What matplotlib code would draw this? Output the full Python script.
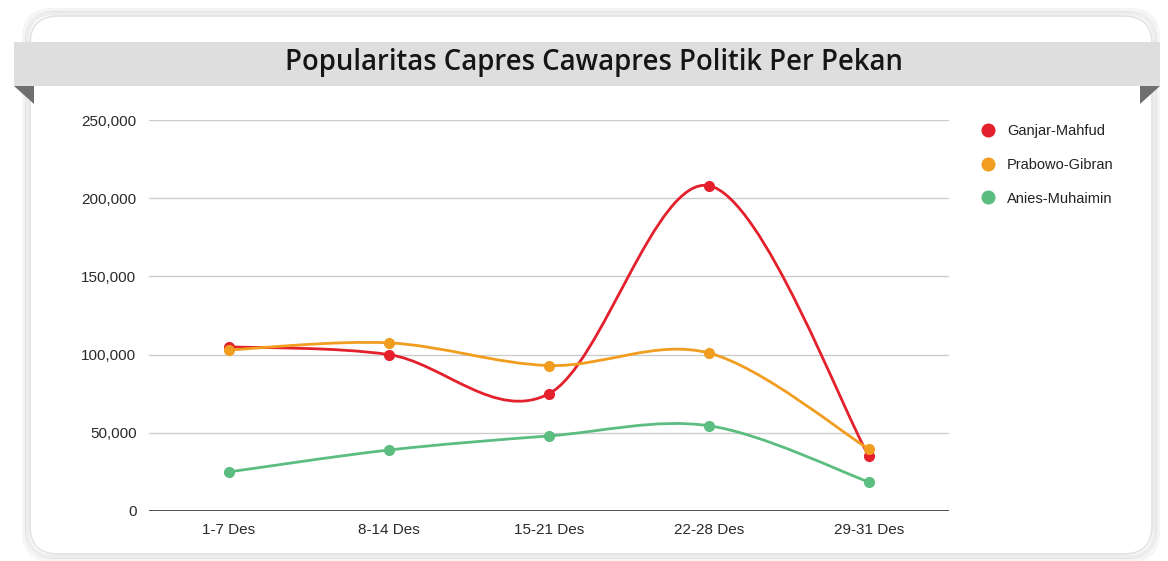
import matplotlib.pyplot as plt
from matplotlib.patches import FancyBboxPatch, Rectangle, Polygon
from matplotlib.path import Path
from matplotlib.patches import PathPatch

weeks = ['1-7 Des', '8-14 Des', '15-21 Des', '22-28 Des', '29-31 Des']
ganjar = [105000, 100000, 75000, 208000, 35000]
prabowo = [103000, 107500, 93000, 101000, 39500]
anies = [25000, 39000, 48000, 54500, 18500]
names = ['Ganjar-Mahfud', 'Prabowo-Gibran', 'Anies-Muhaimin']
colors = ['#e3202b', '#f19d1f', '#5cbd80']
title = 'Popularitas Capres Cawapres Politik Per Pekan'

W, H = 1168, 561
fig = plt.figure(figsize=(W / 100, H / 100), dpi=100)
fig.patch.set_facecolor('white')

# decoration layer in pixel coords
bg = fig.add_axes([0, 0, 1, 1], zorder=0)
bg.set_xlim(0, W)
bg.set_ylim(H, 0)
bg.axis('off')
for off, a in [(6, 0.04), (3, 0.07)]:
    bg.add_patch(FancyBboxPatch((30 - off, 16 - off), 1122 + 2 * off, 538 + 2 * off,
                                boxstyle='round,pad=0,rounding_size=28',
                                fc='none', ec=(0, 0, 0, a), lw=3))
bg.add_patch(FancyBboxPatch((30, 16), 1122, 538, boxstyle='round,pad=0,rounding_size=28',
                            fc='white', ec='#e2e2e2', lw=1.2))
bg.add_patch(Polygon([(14, 86), (34, 86), (34, 104)], closed=True, fc='#6f6f6f', ec='none'))
bg.add_patch(Polygon([(1160, 86), (1140, 86), (1140, 104)], closed=True, fc='#6f6f6f', ec='none'))
bg.add_patch(Rectangle((14, 42), 1146, 44, fc='#dedede', ec='none'))
bg.text(594, 62, title, ha='center', va='center', fontsize=19.8,
        family='Open Sans', fontweight='semibold', color='#151515')

ax = fig.add_axes([149 / W, (H - 511) / H, 800 / W, 391 / H], zorder=1)
ax.patch.set_alpha(0)
ax.set_xlim(-0.5, 4.5)
ax.set_ylim(0, 250000)
ax.set_yticks([0, 50000, 100000, 150000, 200000, 250000])
ax.set_yticklabels(['0', '50,000', '100,000', '150,000', '200,000', '250,000'])
ax.set_xticks(range(len(weeks)))
ax.set_xticklabels(weeks)
ax.tick_params(length=0, labelsize=11, labelcolor='#2a2a2a')
ax.tick_params(axis='y', pad=9)
ax.tick_params(axis='x', pad=9)
for lab in ax.get_xticklabels() + ax.get_yticklabels():
    lab.set_family('Liberation Sans')
ax.grid(axis='y', color='#cccccc', lw=1)
ax.set_axisbelow(True)
for s in ax.spines.values():
    s.set_visible(False)
ax.axhline(0, color='#333333', lw=1.2, zorder=2)


def smooth_path(xs, ys, t=1 / 6):
    # cubic bezier through the points (catmull-rom style control points)
    n = len(xs)
    verts = [(xs[0], ys[0])]
    codes = [Path.MOVETO]
    for i in range(n - 1):
        p0 = max(i - 1, 0)
        p3 = min(i + 2, n - 1)
        c1 = (xs[i] + (xs[i + 1] - xs[p0]) * t, ys[i] + (ys[i + 1] - ys[p0]) * t)
        c2 = (xs[i + 1] - (xs[p3] - xs[i]) * t, ys[i + 1] - (ys[p3] - ys[i]) * t)
        verts += [c1, c2, (xs[i + 1], ys[i + 1])]
        codes += [Path.CURVE4] * 3
    return Path(verts, codes)


xs = list(range(len(weeks)))
for vals, c, nm in zip([ganjar, prabowo, anies], colors, names):
    ax.add_patch(PathPatch(smooth_path(xs, vals), fc='none', ec=c, lw=2, zorder=3))
    ax.plot(xs, vals, 'o', color=c, ms=7, zorder=4, label=nm)

leg = ax.legend(loc='upper left', bbox_to_anchor=(1.014, 1.023), frameon=False,
                handletextpad=0.3, labelspacing=1.35, markerscale=1.3,
                prop={'family': 'Liberation Sans', 'size': 10.5})
for t in leg.get_texts():
    t.set_color('#222222')

fig.savefig('out.png', dpi=100)
